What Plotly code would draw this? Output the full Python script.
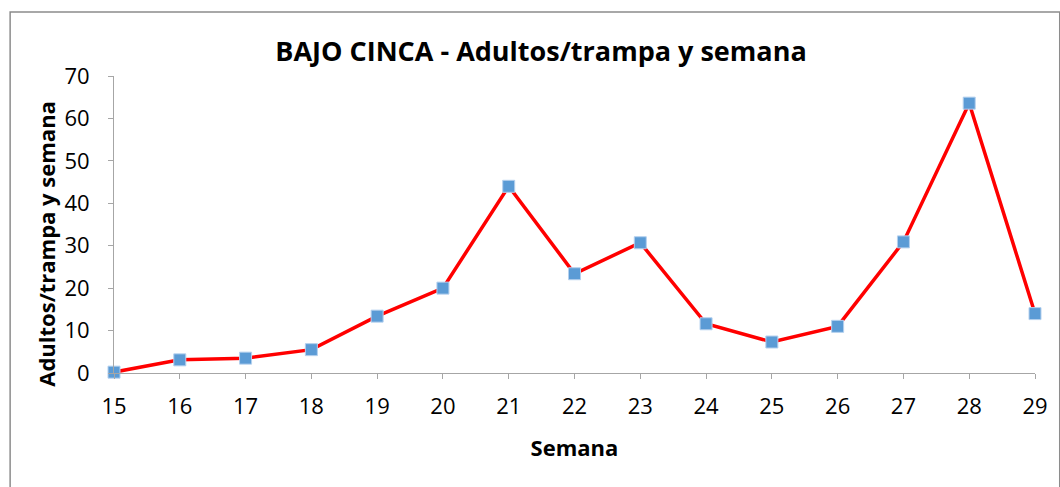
import plotly.graph_objects as go

semanas = [15, 16, 17, 18, 19, 20, 21, 22, 23, 24, 25, 26, 27, 28, 29]
adultos = [0.2, 3.1, 3.5, 5.5, 13.4, 20.0, 44.0, 23.4, 30.7, 11.6, 7.3, 11.0, 30.9, 63.6, 14.0]
y_ticks = [0, 10, 20, 30, 40, 50, 60, 70]

W, H = 1060, 487
L, R, T, B = 114, 15, 76, 114
pw, ph = W - L - R, H - T - B

def px(x):
    return (x - L) / pw

def py(y):
    return (H - B - y) / ph

fig = go.Figure()
fig.add_trace(go.Scatter(
    x=semanas, y=adultos, mode="lines+markers",
    line=dict(color="#FF0000", width=3.5),
    marker=dict(symbol="square", size=12, color="#5B9BD5",
                line=dict(color="#B4D0EE", width=1)),
    cliponaxis=False, showlegend=False,
))

font_family = "'Open Sans', Calibri, Carlito, sans-serif"
fig.update_layout(
    width=W, height=H,
    margin=dict(l=L, r=R, t=T, b=B),
    paper_bgcolor="white", plot_bgcolor="white",
    font=dict(family=font_family, color="#000000"),
    title=dict(text="<b>BAJO CINCA - Adultos/trampa y semana</b>",
               xref="container", yref="container",
               x=541 / W, xanchor="center", y=1 - 52 / H, yanchor="middle",
               font=dict(size=27, family=font_family)),
    xaxis=dict(
        range=[15, 29], tickmode="array", tickvals=semanas,
        ticktext=[str(s) for s in semanas],
        showgrid=False, zeroline=False, showline=True,
        linecolor="#A6A6A6", linewidth=1,
        ticks="outside", ticklen=5, tickcolor="#A6A6A6",
        tickfont=dict(size=22), ticklabelstandoff=9,
        title=dict(text="<b>Semana</b>", font=dict(size=22), standoff=21),
    ),
    yaxis=dict(
        range=[0, 70], tickmode="array", tickvals=y_ticks,
        showgrid=False, zeroline=False, showline=True,
        linecolor="#A6A6A6", linewidth=1,
        ticks="outside", ticklen=5, tickcolor="#A6A6A6",
        tickfont=dict(size=22), ticklabelstandoff=14,
    ),
    annotations=[dict(text="<b>Adultos/trampa y semana</b>", textangle=-90,
                      xref="paper", yref="paper", x=px(45), y=py(244),
                      xanchor="center", yanchor="middle", showarrow=False,
                      font=dict(size=22, family=font_family))],
    shapes=[dict(type="rect", xref="paper", yref="paper",
                 x0=px(9), x1=px(1070), y0=py(500), y1=py(12),
                 line=dict(color="#8C8C8C", width=1.5), fillcolor="rgba(0,0,0,0)",
                 layer="below")],
)

fig.write_html("out.html", config={"displayModeBar": False},
               post_script="document.body.style.margin='0px';")
